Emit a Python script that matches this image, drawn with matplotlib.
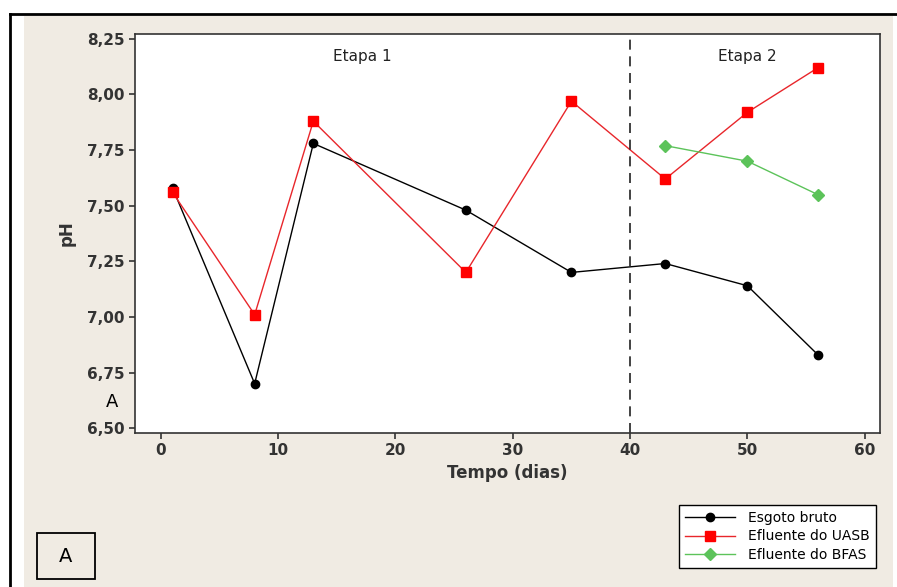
import matplotlib.pyplot as plt
from matplotlib.patches import Rectangle
from matplotlib.lines import Line2D
from matplotlib.ticker import FuncFormatter

# dados (pH ao longo do tempo)
dias_esgoto = [1, 8, 13, 26, 35, 43, 50, 56]
ph_esgoto = [7.58, 6.70, 7.78, 7.48, 7.20, 7.24, 7.14, 6.83]
dias_uasb = [1, 8, 13, 26, 35, 43, 50, 56]
ph_uasb = [7.56, 7.01, 7.88, 7.20, 7.97, 7.62, 7.92, 8.12]
dias_bfas = [43, 50, 56]
ph_bfas = [7.77, 7.70, 7.55]
nomes = ['Esgoto bruto', 'Efluente do UASB', 'Efluente do BFAS']

W, H = 897, 587
fig = plt.figure(figsize=(W / 100, H / 100), dpi=100)
fig.patch.set_facecolor('white')

# fundo bege e moldura
fig.patches.append(Rectangle((24 / W, 0), 1 - 28 / W, 1 - 16 / H, transform=fig.transFigure,
                             facecolor='#f0ebe3', edgecolor='none', zorder=-5))
fig.add_artist(Line2D([10 / W, 1], [1 - 14 / H, 1 - 14 / H], color='black', lw=2))
fig.add_artist(Line2D([10 / W, 10 / W], [0, 1 - 14 / H], color='black', lw=2))

ax = fig.add_axes([135 / W, 1 - 433 / H, (880 - 135) / W, (433 - 34) / H])
ax.set_zorder(2)
ax.set_facecolor('white')

ax.plot(dias_esgoto, ph_esgoto, color='black', marker='o', ms=6, lw=1, label=nomes[0])
ax.plot(dias_uasb, ph_uasb, color='#e8262b', marker='s', ms=7, mfc='#ff0000', mec='#ff0000',
        lw=1, label=nomes[1])
ax.plot(dias_bfas, ph_bfas, color='#5cc35a', marker='D', ms=6, lw=1, label=nomes[2])

ax.axvline(40, color='#222222', ls=(0, (6, 4)), lw=1.2)

ax.set_xlim(-2.2, 61.3)
ax.set_ylim(6.478, 8.272)
ax.set_xticks([0, 10, 20, 30, 40, 50, 60])
ax.set_yticks([6.50, 6.75, 7.00, 7.25, 7.50, 7.75, 8.00, 8.25])
ax.yaxis.set_major_formatter(FuncFormatter(lambda v, p: f'{v:.2f}'.replace('.', ',')))
ax.tick_params(labelsize=11, colors='#333333', length=4, width=1.2)
for t in ax.get_xticklabels() + ax.get_yticklabels():
    t.set_fontweight('bold')
for s in ax.spines.values():
    s.set_color('#333333')
    s.set_linewidth(1.2)

ax.set_xlabel('Tempo (dias)', fontsize=12, fontweight='bold', color='#333333', labelpad=4)
ax.set_ylabel('pH', fontsize=12, fontweight='bold', color='#333333', labelpad=8)

ax.text(17.2, 8.17, 'Etapa 1', ha='center', va='center', fontsize=11, color='#222222')
ax.text(50, 8.17, 'Etapa 2', ha='center', va='center', fontsize=11, color='#222222')

fig.text(112 / W, 1 - 402 / H, 'A', ha='center', va='center', fontsize=13)
fig.patches.append(Rectangle((37 / W, 1 - 579 / H), 58 / W, 46 / H, transform=fig.transFigure,
                             facecolor='none', edgecolor='black', lw=1.3))
fig.text(66 / W, 1 - 557 / H, 'A', ha='center', va='center', fontsize=14)

leg = fig.legend(loc='upper left', bbox_to_anchor=(679 / W, 1 - 505 / H), fontsize=10,
                 frameon=True, fancybox=False, edgecolor='black', facecolor='white',
                 framealpha=1, handlelength=3.6, borderpad=0.45, labelspacing=0.3,
                 borderaxespad=0, handletextpad=0.9)
leg.get_frame().set_linewidth(1)

fig.savefig('out.png', dpi=100)
